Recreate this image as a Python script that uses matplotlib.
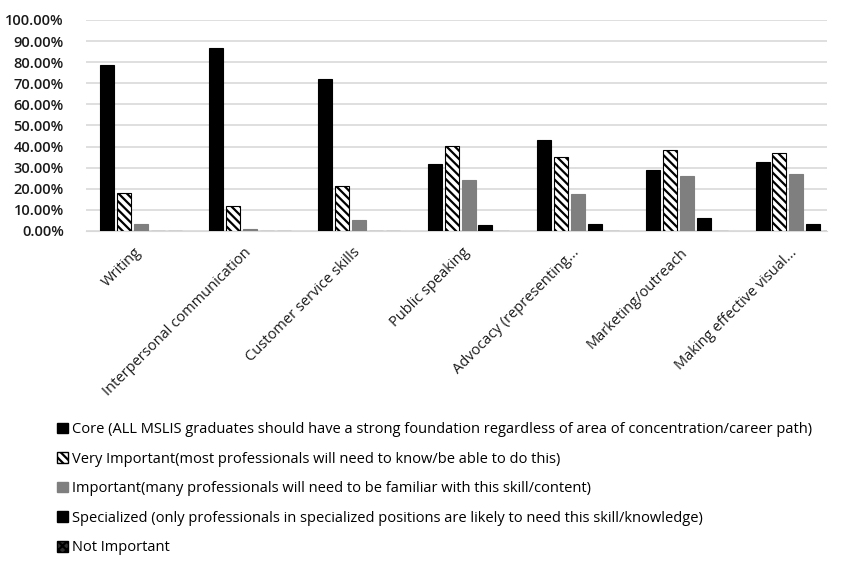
import matplotlib
matplotlib.use("Agg")
import matplotlib.pyplot as plt
import numpy as np
from matplotlib.patches import Patch

categories = ["Writing", "Interpersonal communication", "Customer service skills",
              "Public speaking", "Advocacy (representing...", "Marketing/outreach",
              "Making effective visual..."]
series_names = [
    "Core (ALL MSLIS graduates should have a strong foundation regardless of area of concentration/career path)",
    "Very Important(most professionals will need to know/be able to do this)",
    "Important(many professionals will need to be familiar with this skill/content)",
    "Specialized (only professionals in specialized positions are likely to need this skill/knowledge)",
    "Not Important",
]
core = [78.7, 86.6, 71.9, 31.6, 43.1, 28.9, 32.5]
very_important = [17.9, 12.0, 21.5, 40.4, 35.2, 38.4, 36.8]
important = [3.3, 0.8, 5.4, 24.0, 17.5, 26.1, 26.9]
specialized = [0.0, 0.0, 0.0, 2.7, 3.3, 6.0, 3.3]
not_important = [0.0, 0.0, 0.0, 0.0, 0.0, 0.0, 0.0]
yticks = [0, 10, 20, 30, 40, 50, 60, 70, 80, 90, 100]

series = [core, very_important, important, specialized, not_important]
styles = [
    dict(facecolor="#000000", edgecolor="#000000", hatch=None),
    dict(facecolor="#ffffff", edgecolor="#000000", hatch="\\\\\\\\"),
    dict(facecolor="#7f7f7f", edgecolor="#7f7f7f", hatch=None),
    dict(facecolor="#000000", edgecolor="#000000", hatch=None),
    dict(facecolor="#303030", edgecolor="#000000", hatch="xxxx"),
]

plt.rcParams['font.family'] = ['Open Sans', 'DejaVu Sans']
plt.rcParams['hatch.linewidth'] = 1.6

fig = plt.figure(figsize=(8.46, 5.62), dpi=100)
W, H = 846, 562
left, right, top, bottom = 86, 827, 20, 231
ax = fig.add_axes([left / W, 1 - bottom / H, (right - left) / W, (bottom - top) / H])

x = np.arange(len(categories))
bw = 0.128
step = 0.155
for i, (vals, st) in enumerate(zip(series, styles)):
    offs = (i - 2) * step
    ax.bar(x + offs, vals, width=bw, facecolor=st["facecolor"], edgecolor=st["edgecolor"],
           hatch=st["hatch"], linewidth=0.8, zorder=3)

ax.set_xlim(-0.5, 6.28)
ax.set_ylim(0, 100)
ax.set_yticks(yticks)
ax.set_yticklabels([f"{v:.2f}%" for v in yticks], fontsize=10.5, color="#1a1a1a", fontweight="semibold")
ax.yaxis.grid(True, color="#d9d9d9", linewidth=1.2, zorder=0)
ax.set_axisbelow(True)
for s in ["top", "right", "left"]:
    ax.spines[s].set_visible(False)
ax.spines["bottom"].set_color("#d9d9d9")
ax.tick_params(axis="y", length=0, pad=16)
ax.tick_params(axis="x", length=0, pad=10)
ax.set_xticks(x - 0.06)
ax.set_xticklabels(categories, rotation=45, ha="right", rotation_mode="anchor",
                   fontsize=10.5, color="#1a1a1a")

handles = [Patch(facecolor=st["facecolor"], edgecolor=st["edgecolor"], hatch=st["hatch"])
           for st in styles]
fig.legend(handles, series_names, loc="upper left", bbox_to_anchor=(57 / W, 1 - 422 / H),
           frameon=False, fontsize=10.5, handlelength=0.75, handleheight=0.75,
           handletextpad=0.3, labelspacing=1.0, borderaxespad=0, borderpad=0)

fig.savefig("out.png", dpi=100)
